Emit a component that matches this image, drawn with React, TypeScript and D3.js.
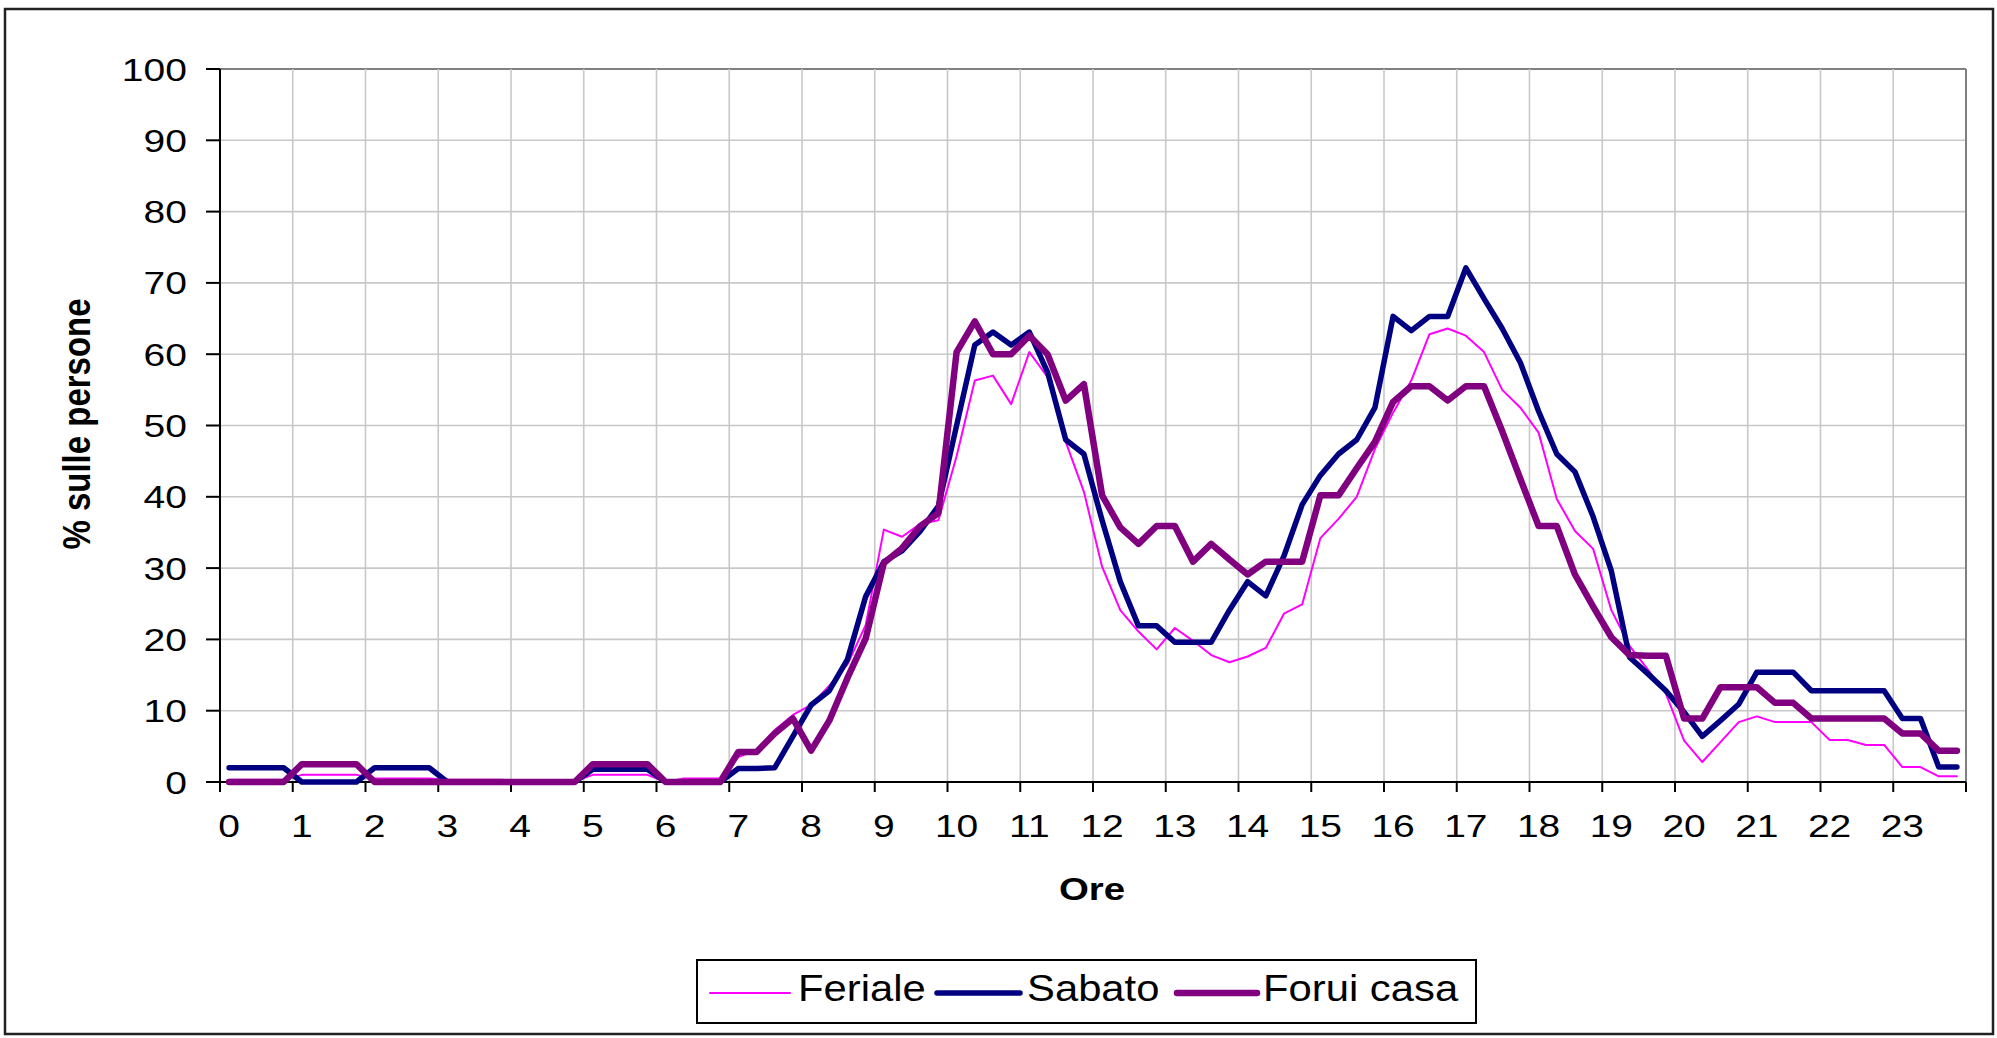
import React from 'react';
import * as d3 from 'd3';

// 96 quarter-hour categories (0:00 .. 23:45)
const feriale: number[] = [
  0.3, 0.3, 0.3, 0.3, 1.0, 1.0, 1.0, 1.0, 0.5, 0.5, 0.5, 0.5,
  0.3, 0.3, 0.3, 0.3, 0.1, 0.1, 0.1, 0.1, 1.0, 1.0, 1.0, 1.0,
  0.0, 0.5, 0.5, 0.5, 3.5, 4.5, 7.3, 9.4, 10.8, 13.5, 16.5, 22.0,
  35.4, 34.4, 36.2, 36.7, 45.7, 56.3, 57.0, 53.0, 60.3, 56.8, 47.7, 40.7,
  30.2, 24.1, 21.1, 18.6, 21.6, 19.8, 17.8, 16.8, 17.6, 18.8, 23.6, 24.9,
  34.2, 36.9, 40.0, 46.7, 51.8, 56.3, 62.8, 63.6, 62.6, 60.3, 55.0, 52.5,
  49.0, 39.7, 35.2, 32.7, 24.1, 19.1, 15.8, 12.4, 5.8, 2.8, 5.6, 8.4,
  9.2, 8.4, 8.4, 8.4, 5.9, 5.9, 5.2, 5.2, 2.1, 2.1, 0.8, 0.8,
];
const sabato: number[] = [
  2.0, 2.0, 2.0, 2.0, 0, 0, 0, 0, 2.0, 2.0, 2.0, 2.0,
  0, 0, 0, 0, 0, 0, 0, 0, 1.8, 1.8, 1.8, 1.8,
  0, 0, 0, 0, 1.9, 1.9, 2.0, 6.4, 10.8, 12.8, 17.2, 26.0,
  30.9, 32.4, 35.2, 38.7, 50.0, 61.3, 63.1, 61.3, 63.1, 57.5, 48.0, 46.0,
  36.7, 28.1, 21.9, 21.9, 19.6, 19.6, 19.6, 24.1, 28.1, 26.1, 31.7, 38.9,
  43.0, 46.0, 48.0, 52.5, 65.3, 63.3, 65.3, 65.3, 72.1, 67.8, 63.6, 58.8,
  52.0, 46.0, 43.5, 37.2, 29.6, 17.5, 15.2, 12.8, 9.8, 6.4, 8.6, 10.9,
  15.4, 15.4, 15.4, 12.8, 12.8, 12.8, 12.8, 12.8, 8.9, 8.9, 2.1, 2.1,
];
const foruiCasa: number[] = [
  0, 0, 0, 0, 2.5, 2.5, 2.5, 2.5, 0, 0, 0, 0,
  0, 0, 0, 0, 0, 0, 0, 0, 2.5, 2.5, 2.5, 2.5,
  0, 0, 0, 0, 4.2, 4.2, 6.8, 8.9, 4.4, 8.6, 14.6, 20.1,
  30.7, 32.8, 35.9, 37.7, 60.3, 64.6, 60.0, 60.0, 62.6, 60.0, 53.5, 55.8,
  40.2, 35.7, 33.4, 35.9, 35.9, 30.9, 33.4, 31.2, 29.1, 30.9, 30.9, 30.9,
  40.2, 40.2, 44.0, 47.7, 53.3, 55.5, 55.5, 53.5, 55.5, 55.5, 49.2, 42.5,
  35.9, 35.9, 29.1, 24.6, 20.3, 17.8, 17.7, 17.7, 8.9, 8.9, 13.3, 13.3,
  13.3, 11.1, 11.1, 8.9, 8.9, 8.9, 8.9, 8.9, 6.8, 6.8, 4.4, 4.4,
];

const yTicks: number[] = [0, 10, 20, 30, 40, 50, 60, 70, 80, 90, 100];
const xLabels: string[] = [
  '0', '1', '2', '3', '4', '5', '6', '7', '8', '9', '10', '11',
  '12', '13', '14', '15', '16', '17', '18', '19', '20', '21', '22', '23',
];
const seriesNames: string[] = ['Feriale', 'Sabato', 'Forui casa'];
const seriesColors: string[] = ['#FF00FF', '#000080', '#800080'];
const seriesWidths: number[] = [2, 5.5, 6.5];

const W = 1997;
const H = 1038;
const L = 220;
const R = 1966;
const T = 69;
const B = 782;

const FONT = 'Arial, "Liberation Sans", Helvetica, sans-serif';

type TProps = {
  x: number; y: number; size: number; sx?: number; anchor?: string;
  weight?: string | number; rotate?: number; children: React.ReactNode;
};
function SText({ x, y, size, sx = 1, anchor = 'start', weight = 'normal', rotate = 0, children }: TProps) {
  return (
    <g transform={`translate(${x},${y}) scale(${sx},1) rotate(${rotate})`}>
      <text x={0} y={0} fontSize={size} fontFamily={FONT} fontWeight={weight}
        textAnchor={anchor as any} fill="#000">{children}</text>
    </g>
  );
}

export default function App() {
  const n = feriale.length;
  const x = d3.scaleLinear().domain([0, n]).range([L, R]);
  const y = d3.scaleLinear().domain([0, 100]).range([B, T]);
  const line = d3.line<number>()
    .x((_d, i) => x(i + 0.5))
    .y((d) => y(d));
  const data = [feriale, sabato, foruiCasa];
  const hourIdx = d3.range(0, 25);

  const legendItems = [
    { lx1: 710, lx2: 790, tx: 798 },
    { lx1: 937, lx2: 1020, tx: 1027 },
    { lx1: 1177, lx2: 1257, tx: 1263 },
  ];

  return (
    <svg width={W} height={H} style={{ position: 'absolute', left: 0, top: 0, background: '#fff' }}>
      <rect x={0} y={0} width={W} height={H} fill="#fff" />
      {/* outer chart border */}
      <rect x={5} y={9} width={1988} height={1025} fill="none" stroke="#222" strokeWidth={2.5} />

      {/* gridlines */}
      {yTicks.filter((t) => t > 0).map((t) => (
        <line key={'gy' + t} x1={L} x2={R} y1={y(t)} y2={y(t)}
          stroke={t === 100 ? '#808080' : '#c8c8c8'} strokeWidth={t === 100 ? 2 : 1.6} />
      ))}
      {hourIdx.filter((h) => h > 0).map((h) => (
        <line key={'gx' + h} x1={x(h * 4)} x2={x(h * 4)} y1={T} y2={B}
          stroke={h === 24 ? '#808080' : '#c8c8c8'} strokeWidth={h === 24 ? 2 : 1.6} />
      ))}

      {/* axes */}
      <line x1={L} x2={L} y1={T} y2={B} stroke="#000" strokeWidth={2} />
      <line x1={L} x2={R} y1={B} y2={B} stroke="#000" strokeWidth={2} />
      {yTicks.map((t) => (
        <line key={'ty' + t} x1={L - 14} x2={L} y1={y(t)} y2={y(t)} stroke="#000" strokeWidth={2} />
      ))}
      {hourIdx.map((h) => (
        <line key={'tx' + h} x1={x(h * 4)} x2={x(h * 4)} y1={B} y2={B + 10} stroke="#000" strokeWidth={2} />
      ))}

      {/* y tick labels */}
      {yTicks.map((t) => (
        <SText key={'ly' + t} x={187} y={y(t) + 11.5} size={32} sx={1.22} anchor="end">{String(t)}</SText>
      ))}
      {/* x tick labels */}
      {xLabels.map((lab, h) => (
        <SText key={'lx' + lab} x={x(h * 4 + 0.5)} y={837} size={32} sx={1.22} anchor="middle">{lab}</SText>
      ))}

      {/* axis titles */}
      <SText x={1092} y={900} size={32} sx={1.2} anchor="middle" weight="bold">Ore</SText>
      <SText x={90} y={424} size={33} sx={1.2} anchor="middle" weight="bold" rotate={-90}>% sulle persone</SText>

      {/* series */}
      {data.map((d, k) => (
        <path key={'s' + k} d={line(d) || ''} fill="none" stroke={seriesColors[k]}
          strokeWidth={seriesWidths[k]} strokeLinejoin="round" strokeLinecap="round" />
      ))}

      {/* legend */}
      <rect x={697} y={960} width={779} height={63} fill="#fff" stroke="#000" strokeWidth={2} />
      {seriesNames.map((name, k) => (
        <g key={'lg' + k}>
          <line x1={legendItems[k].lx1} x2={legendItems[k].lx2} y1={993} y2={993}
            stroke={seriesColors[k]} strokeWidth={seriesWidths[k]} strokeLinecap="round" />
          <SText x={legendItems[k].tx} y={1001} size={37} sx={1.13}>{name}</SText>
        </g>
      ))}
    </svg>
  );
}
